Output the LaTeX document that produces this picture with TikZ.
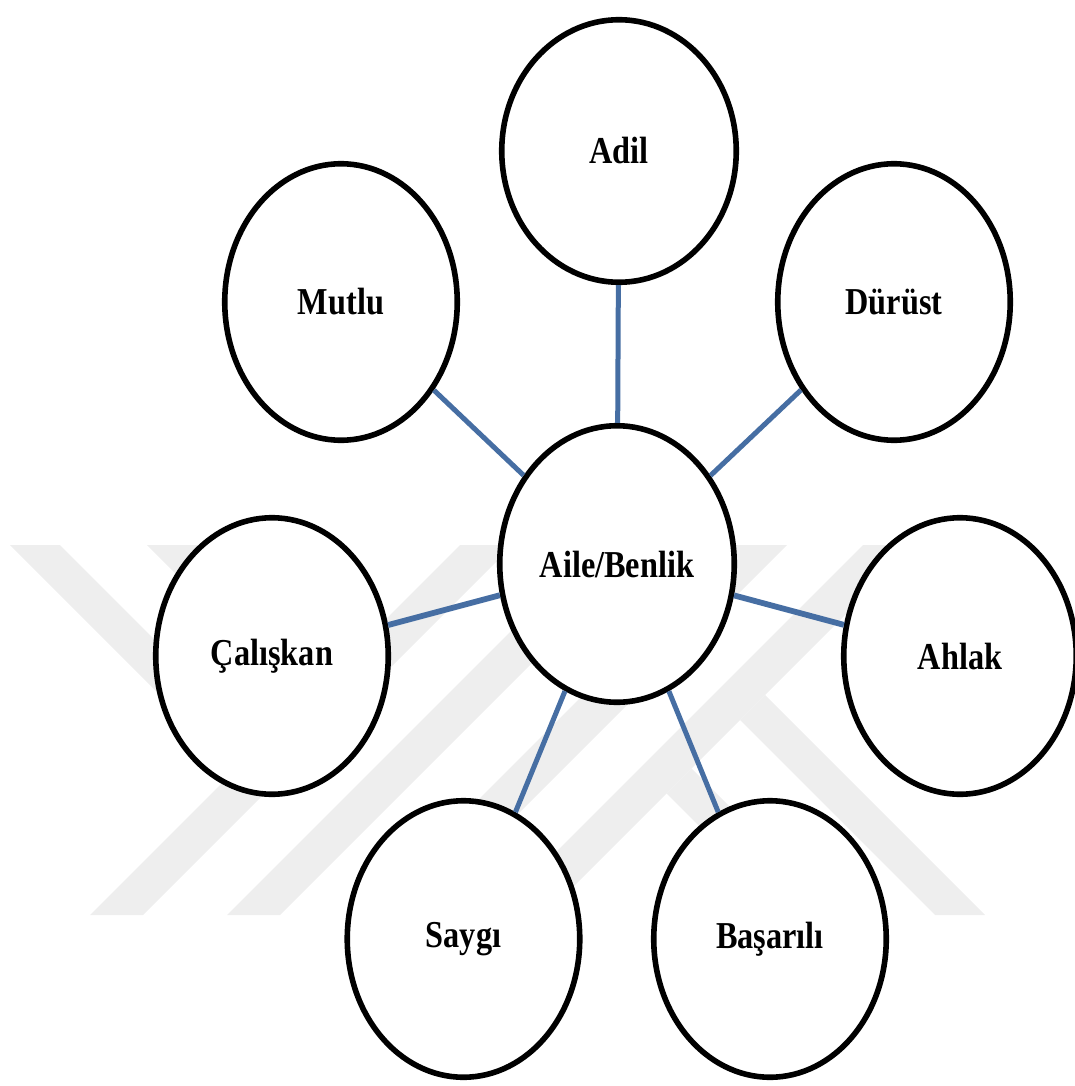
\documentclass[tikz,border=0pt]{standalone}
\usepackage{fontspec}
\setmainfont{Liberation Serif}[FakeStretch=0.85]
\usetikzlibrary{shapes.geometric}
\definecolor{connblue}{RGB}{70,110,163}
\definecolor{wmgray}{RGB}{238,238,238}
\begin{document}
\begin{tikzpicture}[x=1pt,y=-1pt,
  bubble/.style={ellipse, draw=black, line width=5.6pt, fill=white, inner sep=0pt,
    minimum width=232.5pt, minimum height=276.5pt,
    font=\bfseries\fontsize{38}{42}\selectfont},
  conn/.style={draw=connblue, line width=5pt},
  connside/.style={draw=connblue, line width=5.8pt},
  wm/.style={fill=wmgray, draw=none}]
\useasboundingbox (0,0) rectangle (1075,1086);
% watermark
\fill[wm] (10,545) -- (60,545) -- (273,758) -- (248,783) -- cycle;
\fill[wm] (147,545) -- (197,545) -- (341.5,689.5) -- (316.5,714.5) -- cycle;
\fill[wm] (460,545) -- (513,545) -- (143,915) -- (90,915) -- cycle;
\fill[wm] (597,545) -- (650,545) -- (280,915) -- (227,915) -- cycle;
\fill[wm] (733,545) -- (787,545) -- (417,915) -- (363,915) -- cycle;
\fill[wm] (863,545) -- (915,545) -- (545,915) -- (493,915) -- cycle;
\fill[wm] (740,720) -- (765,695) -- (985,915) -- (935,915) -- cycle;
\fill[wm] (666.5,793.5) -- (691.5,768.5) -- (838,915) -- (788,915) -- cycle;
% nodes
\node[bubble, minimum width=234.5pt, minimum height=262.5pt] (adil) at (619,151) {Adil};
\node[bubble] (mutlu) at (341,302) {Mutlu};
\node[bubble] (durust) at (894,302) {Dürüst};
\node[bubble, minimum width=234.5pt] (aile) at (617,564) {Aile/Benlik};
\node[bubble] (caliskan) at (272,656) {Çalışkan};
\node[bubble] (ahlak) at (960,656) {Ahlak};
\node[bubble] (saygi) at (463.5,939) {Saygı};
\node[bubble] (basarili) at (770,939) {Başarılı};
% connectors
\draw[conn] (adil) -- (aile);
\draw[conn] (mutlu) -- (aile);
\draw[conn] (durust) -- (aile);
\draw[connside] (caliskan) -- (aile);
\draw[connside] (ahlak) -- (aile);
\draw[conn] (saygi) -- (aile);
\draw[conn] (basarili) -- (aile);
\end{tikzpicture}
\end{document}
